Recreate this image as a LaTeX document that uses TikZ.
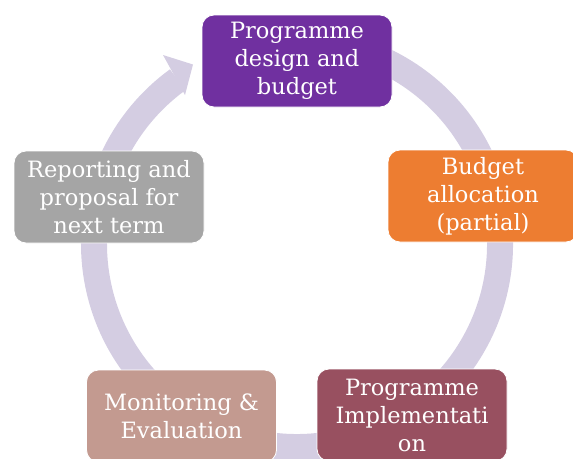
\documentclass[tikz,border=0pt]{standalone}
\usepackage{fontspec}
\setmainfont{DejaVu Serif}
\begin{document}
\definecolor{ringc}{HTML}{D4CDE2}
\definecolor{cpurple}{HTML}{7030A0}
\definecolor{corange}{HTML}{ED7D31}
\definecolor{cgray}{HTML}{A5A5A5}
\definecolor{crose}{HTML}{C39A90}
\definecolor{cwine}{HTML}{985060}
\begin{tikzpicture}[x=1pt,y=-1pt,
  stage/.style={rounded corners=12pt, draw=white, line width=0.8pt,
    minimum width=190pt, minimum height=92pt, inner sep=0pt,
    text=white, align=center, font=\fontsize{22.5}{28}\selectfont},
  ringline/.style={draw=ringc, line width=26pt}]
  \useasboundingbox (0,0) rectangle (573,458);
  \clip (0,0) rectangle (573,458);
  % continuous ring with an arrowhead pointing into the first stage
  \coordinate (hub) at (297,244);
  \draw[ringline] (hub) ++(-100:203) arc[start angle=-100, end angle=234, radius=203];
  \coordinate (headA) at (163,55);
  \coordinate (headTip) at (193,64.5);
  \coordinate (headB) at (185,95);
  \fill[ringc] (headA) -- (headTip) -- (headB) -- cycle;
  % stages of the cycle
  \node[stage, fill=cpurple] (design) at (297,61) {Programme\\design and\\budget};
  \node[stage, fill=corange] (alloc) at (483,196) {Budget\\allocation\\(partial)};
  \node[stage, fill=cwine] (impl) at (412,415) {Programme\\Implementati\\on};
  \node[stage, fill=crose] (mande) at (181.5,416) {Monitoring \&\\Evaluation};
  \node[stage, fill=cgray] (report) at (109,197) {Reporting and\\proposal for\\next term};
\end{tikzpicture}
\end{document}
